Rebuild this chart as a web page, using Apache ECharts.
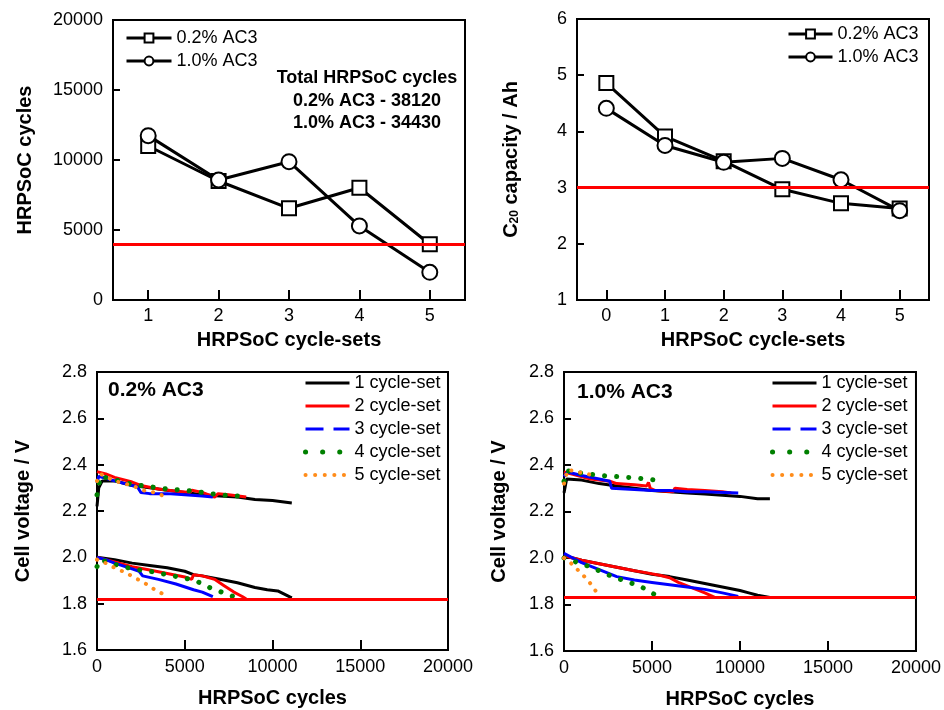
<!DOCTYPE html>
<html>
<head>
<meta charset="utf-8">
<script src="https://cdn.jsdelivr.net/npm/echarts@6/dist/echarts.min.js"></script>
<style>
html,body{margin:0;padding:0;background:#fff;}
#chart{width:944px;height:710px;}
</style>
</head>
<body>
<div id="chart"></div>
<script>
// ---------- Top-left: HRPSoC cycles per cycle-set ----------
const cycleSets = ['1', '2', '3', '4', '5'];
const cycles02 = [11000, 8500, 6550, 8020, 3980];
const cycles10 = [11740, 8570, 9880, 5290, 1980];
const cycleLimit = 4000;

// ---------- Top-right: C20 capacity ----------
const capSets = ['0', '1', '2', '3', '4', '5'];
const cap02 = [4.86, 3.91, 3.47, 2.97, 2.72, 2.63];
const cap10 = [4.41, 3.75, 3.45, 3.52, 3.14, 2.59];
const capLimit = 3.0;

// ---------- Bottom: cell voltage curves [cycles, V] ----------
const setNames = ['1 cycle-set', '2 cycle-set', '3 cycle-set', '4 cycle-set', '5 cycle-set'];

// 0.2% AC3
const a1Top = [[0,2.22],[100,2.30],[300,2.33],[1000,2.33],[2000,2.31],[3000,2.30],[4000,2.29],[5000,2.28],[6000,2.27],[7000,2.265],[8000,2.26],[9000,2.25],[10000,2.245],[11100,2.235]];
const a1Bot = [[0,2.00],[1000,1.99],[2000,1.975],[3000,1.965],[4000,1.955],[5000,1.94],[5500,1.925],[6000,1.92],[7000,1.905],[8000,1.89],[9000,1.87],[9700,1.86],[10300,1.855],[10700,1.84],[11100,1.825]];
const a2Top = [[0,2.37],[500,2.36],[1000,2.345],[2000,2.325],[2500,2.31],[3500,2.295],[4500,2.285],[5300,2.28],[5400,2.29],[6000,2.28],[6700,2.26],[6900,2.275],[7500,2.27],[8500,2.26]];
const a2Bot = [[0,2.00],[1000,1.98],[2000,1.96],[3000,1.945],[4000,1.93],[5000,1.915],[5400,1.905],[5500,1.925],[6000,1.92],[6700,1.905],[7200,1.88],[7800,1.85],[8300,1.83],[8500,1.82]];
const a3Top = [[0,2.32],[100,2.35],[1000,2.33],[2000,2.31],[2300,2.305],[2500,2.28],[3000,2.275],[4000,2.275],[5000,2.27],[6000,2.265],[6600,2.26]];
const a3Bot = [[0,2.00],[500,1.99],[1000,1.975],[2000,1.95],[2400,1.94],[2600,1.92],[3500,1.905],[4500,1.885],[5500,1.86],[6000,1.85],[6600,1.83]];
const a4Top = [[0,2.27],[200,2.35],[1000,2.335],[2000,2.315],[3000,2.305],[4000,2.295],[5000,2.29],[6000,2.28],[7000,2.27],[8000,2.265]];
const a4Bot = [[0,1.96],[200,1.99],[1000,1.97],[2000,1.95],[3000,1.94],[4000,1.925],[5000,1.91],[5600,1.90],[6400,1.87],[7100,1.85],[7800,1.83]];
const a5Top = [[0,2.33],[200,2.36],[1000,2.33],[2000,2.31],[2800,2.285],[3300,2.28],[3800,2.265]];
const a5Bot = [[0,1.99],[500,1.975],[1000,1.955],[1600,1.935],[2200,1.91],[2700,1.89],[3300,1.86],[3800,1.84]];
const cutoffA = 1.82;

// 1.0% AC3
const b1Top = [[0,2.28],[150,2.34],[1000,2.335],[2000,2.32],[3000,2.31],[4000,2.30],[5000,2.29],[6000,2.285],[7000,2.28],[8000,2.275],[9000,2.27],[10000,2.265],[11000,2.255],[11700,2.255]];
const b1Bot = [[0,2.01],[1000,1.99],[2000,1.975],[3000,1.96],[4000,1.945],[5000,1.93],[6000,1.92],[7000,1.905],[8000,1.89],[9000,1.875],[10000,1.86],[10500,1.85],[11000,1.84],[11700,1.83]];
const b2Top = [[0,2.37],[500,2.36],[1500,2.34],[2600,2.33],[3000,2.32],[4000,2.315],[4700,2.31],[4800,2.325],[4900,2.30],[5200,2.29],[6200,2.285],[6300,2.30],[7000,2.295],[8000,2.29],[9000,2.285],[9500,2.28]];
const b2Bot = [[0,2.01],[1000,1.99],[2000,1.975],[3000,1.96],[4000,1.945],[4800,1.935],[5500,1.925],[6000,1.915],[6500,1.895],[7000,1.88],[7500,1.865],[8000,1.85],[8600,1.83]];
const b3Top = [[0,2.35],[200,2.37],[1000,2.355],[2000,2.34],[2600,2.33],[2700,2.30],[4000,2.295],[5000,2.29],[6000,2.29],[7000,2.285],[8000,2.285],[9900,2.28]];
const b3Bot = [[0,2.02],[500,2.00],[1000,1.98],[2000,1.95],[3000,1.92],[4000,1.905],[5000,1.895],[6000,1.885],[7000,1.875],[8000,1.865],[9000,1.85],[9900,1.835]];
const b4Top = [[0,2.33],[200,2.375],[1000,2.365],[2000,2.355],[3000,2.35],[4000,2.345],[5200,2.335]];
const b4Bot = [[0,2.00],[600,1.985],[1200,1.97],[2000,1.945],[2600,1.925],[3500,1.90],[4300,1.88],[5100,1.845]];
const b5Top = [[0,2.32],[200,2.38],[800,2.37],[1400,2.36],[1900,2.35]];
const b5Bot = [[0,2.00],[300,1.985],[700,1.955],[1100,1.925],[1400,1.90],[1700,1.87],[1950,1.84]];
const cutoffB = 1.83;

// ---------- chart ----------
const FONT = 'Liberation Sans, Arial, sans-serif';
const BLACK = '#000';
const chart = echarts.init(document.getElementById('chart'), null, {renderer: 'canvas'});

const setStyles = [
  {color: '#000000', type: 'solid', width: 3, cap: 'butt'},
  {color: '#ff0000', type: 'solid', width: 3, cap: 'butt'},
  {color: '#0000ff', type: 'solid', width: 3, cap: 'butt'},
  {color: '#008000', type: [0.1, 12], width: 5, cap: 'round'},
  {color: '#ff8c1a', type: [0.1, 9], width: 4, cap: 'round'}
];
const legendLineTypes = ['solid', 'solid', [18, 10], [0.1, 17], [0.1, 9.5]];

const plainNum = v => String(v);

function axisBase() {
  return {
    axisLine: {show: true, onZero: false, lineStyle: {color: BLACK, width: 2}},
    axisTick: {show: true, inside: true, length: 7, lineStyle: {color: BLACK, width: 2}},
    axisLabel: {color: BLACK, fontSize: 18, fontFamily: FONT, margin: 10, formatter: plainNum},
    splitLine: {show: false},
    nameTextStyle: {color: BLACK, fontSize: 20, fontWeight: 'bold', fontFamily: FONT},
    nameLocation: 'middle'
  };
}

const grids = [
  {left: 113, top: 20, width: 352, height: 280},
  {left: 577, top: 19, width: 352, height: 281},
  {left: 97, top: 372, width: 351, height: 278},
  {left: 564, top: 372, width: 352, height: 280}
].map(g => Object.assign(g, {show: true, borderColor: BLACK, borderWidth: 2, backgroundColor: 'transparent'}));

const xTickBig = {show: true, inside: true, length: 10, lineStyle: {color: BLACK, width: 2}};

const xAxes = [
  Object.assign(axisBase(), {gridIndex: 0, type: 'category', data: cycleSets, boundaryGap: true,
    name: 'HRPSoC cycle-sets', nameGap: 30,
    axisTick: Object.assign({alignWithLabel: true}, xTickBig),
    axisLabel: {color: BLACK, fontSize: 18, fontFamily: FONT, margin: 7}}),
  Object.assign(axisBase(), {gridIndex: 1, type: 'category', data: capSets, boundaryGap: true,
    name: 'HRPSoC cycle-sets', nameGap: 30,
    axisTick: Object.assign({alignWithLabel: true}, xTickBig),
    axisLabel: {color: BLACK, fontSize: 18, fontFamily: FONT, margin: 7}}),
  Object.assign(axisBase(), {gridIndex: 2, type: 'value', min: 0, max: 20000, interval: 5000,
    name: 'HRPSoC cycles', nameGap: 38, axisTick: xTickBig,
    axisLabel: {color: BLACK, fontSize: 18, fontFamily: FONT, margin: 8, formatter: plainNum}}),
  Object.assign(axisBase(), {gridIndex: 3, type: 'value', min: 0, max: 20000, interval: 5000,
    name: 'HRPSoC cycles', nameGap: 38, axisTick: xTickBig,
    axisLabel: {color: BLACK, fontSize: 18, fontFamily: FONT, margin: 8, formatter: plainNum}})
];

const yAxes = [
  Object.assign(axisBase(), {gridIndex: 0, type: 'value', min: 0, max: 20000, interval: 5000,
    name: 'HRPSoC cycles', nameGap: 78}),
  Object.assign(axisBase(), {gridIndex: 1, type: 'value', min: 1, max: 6, interval: 1,
    name: 'C{s|20} capacity / Ah', nameGap: 56,
    nameTextStyle: {color: BLACK, fontSize: 20, fontWeight: 'bold', fontFamily: FONT,
      rich: {s: {fontSize: 12, fontWeight: 'bold', fontFamily: FONT, color: BLACK, verticalAlign: 'bottom', padding: [8, 0, 0, 0]}}}}),
  Object.assign(axisBase(), {gridIndex: 2, type: 'value', min: 1.6, max: 2.8, interval: 0.2,
    name: 'Cell voltage / V', nameGap: 64,
    axisLabel: {color: BLACK, fontSize: 18, fontFamily: FONT, margin: 10, formatter: v => v.toFixed(1)}}),
  Object.assign(axisBase(), {gridIndex: 3, type: 'value', min: 1.6, max: 2.8, interval: 0.2,
    name: 'Cell voltage / V', nameGap: 55,
    axisLabel: {color: BLACK, fontSize: 18, fontFamily: FONT, margin: 10, formatter: v => v.toFixed(1)}})
];

function limitLine(value) {
  return {silent: true, symbol: 'none', label: {show: false},
    lineStyle: {color: '#ff0000', width: 3, type: 'solid'}, data: [{yAxis: value}]};
}

const series = [];
const markerStyle = {color: '#fff', borderColor: BLACK, borderWidth: 2};
// top-left
series.push({name: '0.2% AC3', type: 'line', xAxisIndex: 0, yAxisIndex: 0, data: cycles02,
  symbol: 'rect', symbolSize: 14, lineStyle: {color: BLACK, width: 3}, itemStyle: markerStyle, z: 3,
  markLine: limitLine(cycleLimit)});
series.push({name: '1.0% AC3', type: 'line', xAxisIndex: 0, yAxisIndex: 0, data: cycles10,
  symbol: 'circle', symbolSize: 15, lineStyle: {color: BLACK, width: 3}, itemStyle: markerStyle, z: 3});
// top-right
series.push({name: '0.2% AC3', type: 'line', xAxisIndex: 1, yAxisIndex: 1, data: cap02,
  symbol: 'rect', symbolSize: 14, lineStyle: {color: BLACK, width: 3}, itemStyle: markerStyle, z: 3,
  markLine: limitLine(capLimit)});
series.push({name: '1.0% AC3', type: 'line', xAxisIndex: 1, yAxisIndex: 1, data: cap10,
  symbol: 'circle', symbolSize: 15, lineStyle: {color: BLACK, width: 3}, itemStyle: markerStyle, z: 3});

// bottom panels
const curvesA = [[a1Top, a1Bot], [a2Top, a2Bot], [a3Top, a3Bot], [a4Top, a4Bot], [a5Top, a5Bot]];
const curvesB = [[b1Top, b1Bot], [b2Top, b2Bot], [b3Top, b3Bot], [b4Top, b4Bot], [b5Top, b5Bot]];
[[curvesA, 2, cutoffA], [curvesB, 3, cutoffB]].forEach(([curves, gi, cutoff]) => {
  curves.forEach((pair, i) => {
    pair.forEach(arr => {
      series.push({name: setNames[i], type: 'line', xAxisIndex: gi, yAxisIndex: gi, data: arr,
        symbol: 'none', showSymbol: false, smooth: false,
        lineStyle: Object.assign({}, setStyles[i]), itemStyle: {color: setStyles[i].color}, z: 2 + i * 0.1});
    });
  });
  series.push({type: 'line', xAxisIndex: gi, yAxisIndex: gi, data: [], z: 5,
    markLine: Object.assign(limitLine(cutoff), {z: 5})});
});

function legendFor(data, left, top, opts) {
  return Object.assign({orient: 'vertical', left: left, top: top, itemGap: 5, padding: 0,
    selectedMode: false, textStyle: {color: BLACK, fontSize: 18, fontFamily: FONT, lineHeight: 18},
    data: data}, opts || {});
}
const bottomLegendData = () => setNames.map((n, i) => ({name: n,
  lineStyle: {type: legendLineTypes[i], width: setStyles[i].width, cap: setStyles[i].cap}}));
const topLegendData = () => ['0.2% AC3', '1.0% AC3'].map(n => ({name: n, lineStyle: {width: 3}}));

const option = {
  animation: false,
  backgroundColor: '#fff',
  textStyle: {fontFamily: FONT},
  grid: grids,
  xAxis: xAxes,
  yAxis: yAxes,
  legend: [
    legendFor(topLegendData(), 125, 29, {itemWidth: 45, itemHeight: 11}),
    legendFor(topLegendData(), 787, 25, {itemWidth: 44, itemHeight: 11}),
    legendFor(bottomLegendData(), 303, 374, {itemWidth: 44, itemHeight: 14, itemStyle: {opacity: 0}}),
    legendFor(bottomLegendData(), 770, 374, {itemWidth: 44, itemHeight: 14, itemStyle: {opacity: 0}})
  ],
  graphic: [
    {type: 'text', x: 367, y: 67, style: {text: 'Total HRPSoC cycles\n0.2% AC3 - 38120\n1.0% AC3 - 34430',
      font: 'bold 18px ' + FONT, fill: BLACK, textAlign: 'center', textVerticalAlign: 'top', lineHeight: 22.5}},
    {type: 'text', x: 108, y: 390, style: {text: '0.2% AC3', font: 'bold 21px ' + FONT, fill: BLACK,
      textAlign: 'left', textVerticalAlign: 'middle'}},
    {type: 'text', x: 577, y: 392, style: {text: '1.0% AC3', font: 'bold 21px ' + FONT, fill: BLACK,
      textAlign: 'left', textVerticalAlign: 'middle'}}
  ],
  series: series
};
chart.setOption(option);
</script>
</body>
</html>
